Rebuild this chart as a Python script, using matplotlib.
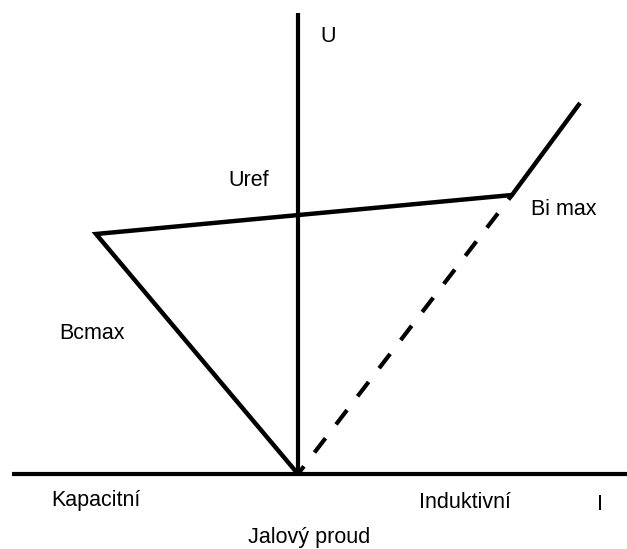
import matplotlib
matplotlib.use("Agg")
import matplotlib.pyplot as plt

plt.rcParams['font.family'] = ['Liberation Sans', 'DejaVu Sans']
plt.rcParams['lines.scale_dashes'] = False

# Characteristic points (I, U) in drawing units
origin = (298, 474)
cap_point = (96, 234)      # Bc max
ind_point = (512, 195)     # Bi max
over_point = (580, 103)
axis_x = [12, 627]
axis_y = [13, 476]

# Labels (left x, baseline y)
labels = ["U", "Uref", "Bi max", "Bcmax", "Kapacitní", "Induktivní", "I", "Jalový proud"]
label_pos = [(320, 42), (228, 186), (531, 215), (59, 339), (51, 506), (419, 508), (597, 510), (248, 543)]

fig = plt.figure(figsize=(6.27, 5.49), dpi=100)
ax = fig.add_axes([0, 0, 1, 1])
ax.set_xlim(0, 627)
ax.set_ylim(549, 0)
ax.axis('off')

# axes
ax.plot(axis_x, [origin[1], origin[1]], color='black', lw=3.0, solid_capstyle='butt')
ax.plot([origin[0], origin[0]], axis_y, color='black', lw=3.0, solid_capstyle='butt')

# characteristic
xs = [origin[0], cap_point[0], ind_point[0], over_point[0]]
ys = [origin[1], cap_point[1], ind_point[1], over_point[1]]
ax.plot(xs, ys, color='black', lw=3.2, solid_joinstyle='miter', solid_capstyle='butt')

# dashed line
ax.plot([origin[0], ind_point[0]], [origin[1], ind_point[1]], color='black', lw=3.0,
        linestyle=(6, (13, 12.5)), dash_capstyle='butt')

for t, (x, y) in zip(labels, label_pos):
    ax.text(x, y, t, fontsize=15.5, ha='left', va='baseline', color='black')

fig.savefig('out.png', dpi=100)
